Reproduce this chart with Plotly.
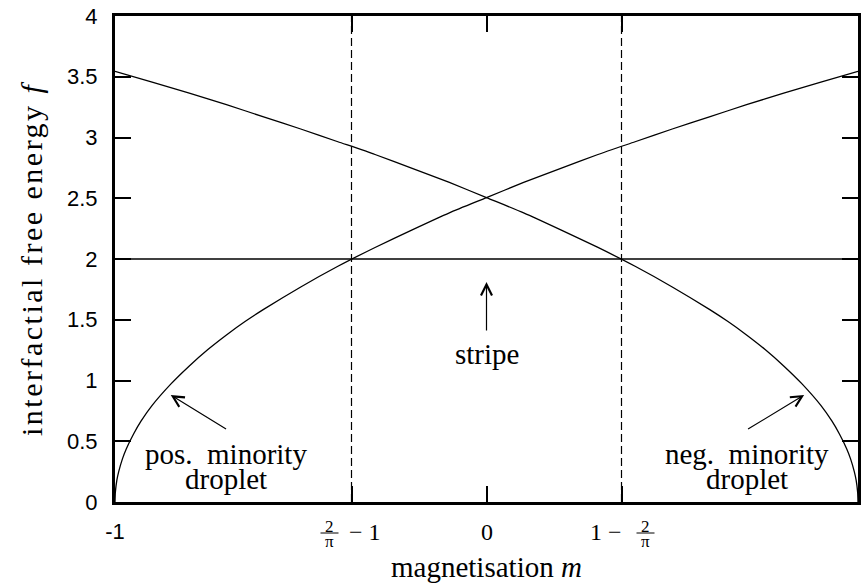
import math
import plotly.graph_objects as go

# magnetisation samples (denser near the ends where the droplet curves are steep)
m_vals = [-1.0, -0.999, -0.995, -0.99, -0.98, -0.97, -0.95, -0.93, -0.9, -0.85,
          -0.8, -0.75, -0.7, -0.65, -0.6, -0.5, -0.4, -0.3, -0.2, -0.1,
          0.0, 0.1, 0.2, 0.3, 0.4, 0.5, 0.6, 0.7, 0.8, 0.9, 1.0]

# interfacial free energy of the positive-minority droplet
f_pos_droplet = [0.0, 0.08, 0.18, 0.25, 0.355, 0.435, 0.56, 0.665, 0.795, 0.97,
                 1.12, 1.255, 1.375, 1.485, 1.585, 1.77, 1.94, 2.095, 2.24, 2.38,
                 2.505, 2.63, 2.745, 2.86, 2.965, 3.07, 3.17, 3.27, 3.365, 3.455, 3.545]

# interfacial free energy of the negative-minority droplet
m_neg = [-1.0, -0.9, -0.8, -0.7, -0.6, -0.5, -0.4, -0.3, -0.2, -0.1,
         0.0, 0.1, 0.2, 0.3, 0.4, 0.5, 0.6, 0.65, 0.7, 0.75,
         0.8, 0.85, 0.9, 0.93, 0.95, 0.97, 0.98, 0.99, 0.995, 0.999, 1.0]
f_neg_droplet = [3.545, 3.455, 3.365, 3.27, 3.17, 3.07, 2.965, 2.86, 2.745, 2.63,
                 2.505, 2.38, 2.24, 2.095, 1.94, 1.77, 1.585, 1.485, 1.375, 1.255,
                 1.12, 0.97, 0.795, 0.665, 0.56, 0.435, 0.355, 0.25, 0.18, 0.08, 0.0]

# stripe phase
m_stripe = [-1.0, 1.0]
f_stripe = [2.0, 2.0]

# crossing magnetisations where the stripe meets the droplets
m_cross = [2 / math.pi - 1, 1 - 2 / math.pi]
f_span = [0.0, 4.0]

y_ticks = [0, 0.5, 1, 1.5, 2, 2.5, 3, 3.5, 4]
y_ticktext = ["0", "0.5", "1", "1.5", "2", "2.5", "3", "3.5", "4"]
x_ticks = [-1, m_cross[0], 0, m_cross[1]]

# arrows: (head m, head f, tail m, tail f)
arrows = [
    (0.0, 1.81, 0.0, 1.40),
    (-0.85, 0.88, -0.697, 0.593),
    (0.855, 0.88, 0.70, 0.593),
]

SERIF = "Liberation Serif"
SANS = "Liberation Sans"

fig = go.Figure()

line_style = dict(color="black", width=1.3)
fig.add_trace(go.Scatter(x=m_vals, y=f_pos_droplet, mode="lines",
                         line=dict(line_style, shape="spline", smoothing=0.6)))
fig.add_trace(go.Scatter(x=m_neg, y=f_neg_droplet, mode="lines",
                         line=dict(line_style, shape="spline", smoothing=0.6)))
fig.add_trace(go.Scatter(x=m_stripe, y=f_stripe, mode="lines", line=line_style))
for mc in m_cross:
    fig.add_trace(go.Scatter(x=[mc, mc], y=f_span, mode="lines",
                             line=dict(color="black", width=1.2, dash="8px,4px")))

annotations = []
for hx, hy, tx, ty in arrows:
    annotations.append(dict(x=hx, y=hy, ax=tx, ay=ty, xref="x", yref="y",
                            axref="x", ayref="y", text="", showarrow=True,
                            arrowhead=5, arrowsize=1.8, arrowwidth=1.2,
                            arrowcolor="black", standoff=0, startstandoff=0))

label_font = dict(family=SERIF, size=29, color="black")


def text_at(x, y, s, font=label_font, **kw):
    annotations.append(dict(x=x, y=y, xref="x", yref="y", text=s, showarrow=False,
                            font=font, xanchor="center", yanchor="middle", **kw))


text_at(0.0, 1.22, "stripe")
text_at(-0.70, 0.395, "pos.\u00a0 minority")
text_at(-0.70, 0.19, "droplet")
text_at(0.70, 0.395, "neg.\u00a0 minority")
text_at(0.70, 0.19, "droplet")

# axis titles
annotations.append(dict(x=0.5, y=0, xref="paper", yref="paper", yshift=-65,
                        text="magnetisation <i>m</i>", showarrow=False,
                        font=label_font, xanchor="center", yanchor="middle"))
annotations.append(dict(x=0, y=0.5, xref="paper", yref="paper", xshift=-84,
                        text="<span style='letter-spacing:2.5px'>interfactial free energy <i>f</i></span>",
                        showarrow=False,
                        font=dict(family=SERIF, size=30, color="black"),
                        textangle=-90, xanchor="center", yanchor="middle"))

# serif x tick labels: 0 and the two fractional crossings
tick_font = dict(family=SERIF, size=24, color="black")
frac_font = dict(family=SERIF, size=17, color="black")


def tick_text(x, s, xshift, yshift, font):
    annotations.append(dict(x=x, y=0, xref="x", yref="paper", text=s,
                            showarrow=False, font=font, xshift=xshift,
                            yshift=yshift, xanchor="center", yanchor="middle"))


tick_text(0, "0", 0, -30, tick_font)
shapes = []
for mc, frac_dx, rest_dx, rest in [(m_cross[0], -22, 13, "\u2212 1"),
                                   (m_cross[1], 24, -16, "1 \u2212")]:
    tick_text(mc, "2", frac_dx, -24, frac_font)
    tick_text(mc, "\u03c0", frac_dx, -39, frac_font)
    tick_text(mc, rest, rest_dx, -30, tick_font)
    shapes.append(dict(type="line", xref="x", yref="paper",
                       xsizemode="pixel", ysizemode="pixel",
                       xanchor=mc, yanchor=0,
                       x0=frac_dx - 9, x1=frac_dx + 9, y0=-31, y1=-31,
                       line=dict(color="black", width=1)))

axis_common = dict(showline=True, linewidth=3, linecolor="black", mirror="ticks",
                   ticks="inside", ticklen=16, tickwidth=2, tickcolor="black",
                   showgrid=False, zeroline=False,
                   tickfont=dict(family=SANS, size=22, color="black"))

fig.update_layout(
    width=863, height=585,
    margin=dict(l=115, r=2, t=16, b=83),
    paper_bgcolor="white", plot_bgcolor="white",
    showlegend=False,
    xaxis=dict(axis_common, range=[-1, 1], tickvals=x_ticks,
               ticktext=["-1", "", "", ""], ticklabelstandoff=8),
    yaxis=dict(axis_common, range=[0, 4], tickvals=y_ticks,
               ticktext=y_ticktext, ticklabelstandoff=10),
    annotations=annotations,
    shapes=shapes,
)

fig.write_html("out.html")
